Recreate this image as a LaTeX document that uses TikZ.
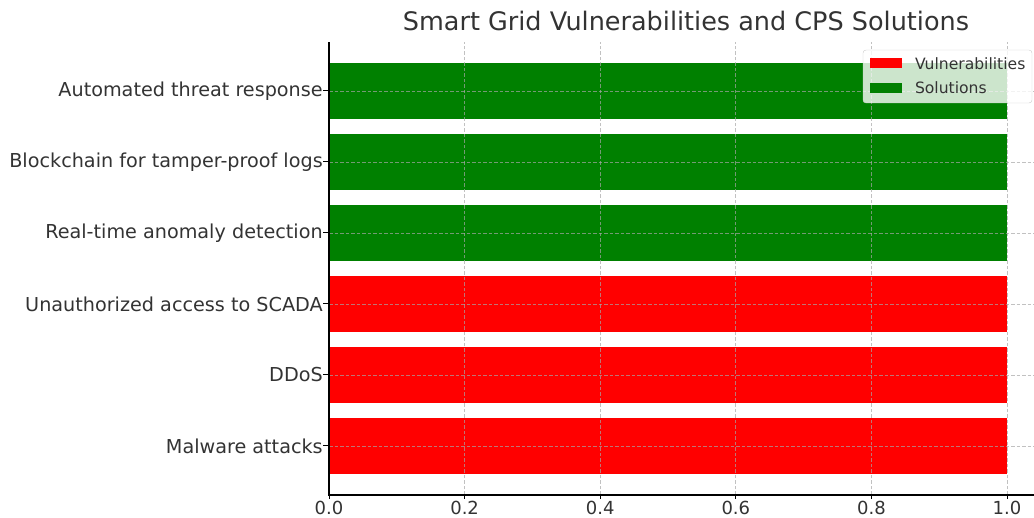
\documentclass[tikz,border=0pt]{standalone}
\usepackage{fontspec}
\setmainfont{DejaVu Sans}
\usetikzlibrary{positioning}
\definecolor{txtgray}{HTML}{333333}
\definecolor{vulnred}{HTML}{FF0000}
\definecolor{solgreen}{HTML}{008000}

\begin{document}
\begin{tikzpicture}[x=678pt,y=71pt,text=txtgray,
  gridline/.style={black!35,opacity=0.7,line width=0.7pt,dash pattern=on 3.5pt off 2pt},
  spine/.style={black,line width=1.3pt},
  ticklab/.style={font=\fontsize{18}{22}\selectfont,inner sep=0pt},
  catlab/.style={font=\fontsize{19.2}{23}\selectfont,inner sep=0pt,anchor=east},
  leglab/.style={font=\fontsize{15.6}{19}\selectfont,inner sep=0pt,anchor=west}]
\useasboundingbox (-0.4853,-1.0141) rectangle (1.0398,6.2817);
% bars, bottom to top
\foreach \i/\c in {0/vulnred,1/vulnred,2/vulnred,3/solgreen,4/solgreen,5/solgreen}
  \fill[\c] (0,\i-0.4) rectangle (1,\i+0.4);
% grid
\foreach \v in {0.2,0.4,0.6,0.8,1.0}
  \draw[gridline] (\v,-0.69) -- (\v,5.69);
\foreach \i in {0,...,5}
  \draw[gridline] (0,\i) -- (1.04,\i);
% axes
\draw[spine] (0,5.69) -- (0,-0.69) -- (1.04,-0.69);
\foreach \v in {0.0,0.2,0.4,0.6,0.8,1.0} {
  \draw[line width=1pt] (\v,-0.69) -- (\v,-0.74);
  \node[ticklab,anchor=north] (xt\v) at (\v,-0.775) {\v};
}
\foreach \i/\t in {0/Malware attacks,1/DDoS,2/Unauthorized access to SCADA,
    3/Real-time anomaly detection,4/Blockchain for tamper-proof logs,5/Automated threat response} {
  \draw[line width=1pt] (0,\i) -- (-0.0088,\i);
  \node[catlab] (lab\i) at (-0.009,\i) {\t};
}
\node[font=\fontsize{25.5}{30}\selectfont] (title) at (0.5265,5.993) {Smart Grid Vulnerabilities and CPS Solutions};
% legend
\draw[rounded corners=3pt,draw=black!20,fill=white,fill opacity=0.8] (0.7876,4.831) rectangle (1.0369,5.577);
\fill[vulnred] (0.798,5.32) rectangle (0.845,5.46);
\fill[solgreen] (0.798,4.97) rectangle (0.845,5.11);
\node[leglab] (lgv) at (0.864,5.39) {Vulnerabilities};
\node[leglab] (lgs) at (0.864,5.04) {Solutions};
\end{tikzpicture}
\end{document}
